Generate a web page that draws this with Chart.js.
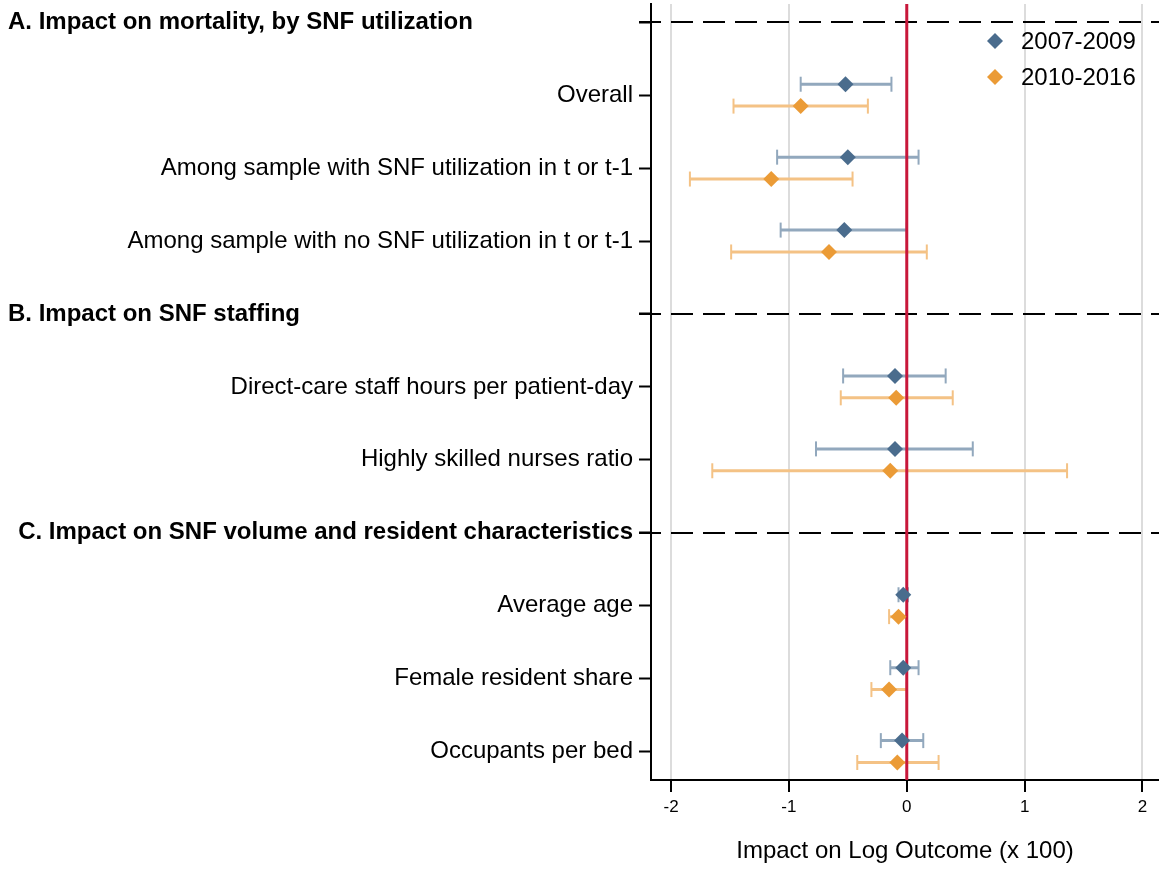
<!DOCTYPE html>
<html>
<head>
<meta charset="utf-8">
<title>Impact on Log Outcome</title>
<script src="https://cdn.jsdelivr.net/npm/chart.js@4"></script>
<style>
  html, body { margin: 0; padding: 0; background: #fff; }
  #wrap { width: 1159px; height: 869px; position: relative; }
</style>
</head>
<body>
<div id="wrap"><canvas id="coefChart"></canvas></div>
<script>
// rows from top to bottom, section headings included
const rowLabels = [
  'A. Impact on mortality, by SNF utilization',
  'Overall',
  'Among sample with SNF utilization in t or t-1',
  'Among sample with no SNF utilization in t or t-1',
  'B. Impact on SNF staffing',
  'Direct-care staff hours per patient-day',
  'Highly skilled nurses ratio',
  'C. Impact on SNF volume and resident characteristics',
  'Average age',
  'Female resident share',
  'Occupants per bed'
];
const headerRows = [0, 4, 7];
const outcomeRows = [1, 2, 3, 5, 6, 8, 9, 10];

const seriesNames = ['2007-2009', '2010-2016'];

// point estimates and 95% CI, one entry per outcome row
const est0709 = [-0.52, -0.50, -0.53, -0.10, -0.10, -0.03, -0.03, -0.04];
const lo0709  = [-0.90, -1.10, -1.07, -0.54, -0.77, -0.07, -0.14, -0.22];
const hi0709  = [-0.13,  0.10,  0.00,  0.33,  0.56,  0.01,  0.10,  0.14];

const est1016 = [-0.90, -1.15, -0.66, -0.09, -0.14, -0.07, -0.15, -0.08];
const lo1016  = [-1.47, -1.84, -1.49, -0.56, -1.65, -0.15, -0.30, -0.42];
const hi1016  = [-0.33, -0.46,  0.17,  0.39,  1.36,  0.00,  0.00,  0.27];

const xTicks = [-2, -1, 0, 1, 2];
const refLine = 0;

const blue = '#4a6c8d', blueCI = '#92a8bd';
const orange = '#eb9b36', orangeCI = '#f4c285';
const FONT = 'Liberation Sans, Arial, Helvetica, sans-serif';

const yMin = -0.25, yMax = 10.39;
const shift = 0.15;

function pointData(est, dy) {
  return outcomeRows.map((r, i) => ({ x: est[i], y: r + dy }));
}

function ciData(lo, hi, dy) {
  const out = [];
  outcomeRows.forEach((r, i) => {
    out.push({ x: lo[i], y: r + dy });
    out.push({ x: hi[i], y: r + dy });
    out.push({ x: null, y: null });
  });
  return out;
}

// section headings, dashed separators and the legend
const headingsPlugin = {
  id: 'headings',
  beforeDatasetsDraw(chart) {
    const ctx = chart.ctx;
    const area = chart.chartArea;
    const yScale = chart.scales.y;
    ctx.save();
    ctx.strokeStyle = '#000';
    ctx.lineWidth = 2;
    ctx.setLineDash([22, 10]);
    headerRows.forEach(r => {
      const y = Math.round(yScale.getPixelForValue(r));
      ctx.beginPath();
      ctx.moveTo(area.left - 12, y);
      ctx.lineTo(area.right, y);
      ctx.stroke();
    });
    ctx.restore();
  },
  afterDraw(chart) {
    const ctx = chart.ctx;
    const area = chart.chartArea;
    const yScale = chart.scales.y;
    const rightEdge = area.left - 18;
    ctx.save();
    ctx.font = 'bold 24px ' + FONT;
    ctx.fillStyle = '#000';
    ctx.textBaseline = 'middle';
    headerRows.forEach(r => {
      const w = ctx.measureText(rowLabels[r]).width;
      const x = (8 + w > rightEdge - 20) ? rightEdge - w : 8;
      ctx.fillText(rowLabels[r], x, yScale.getPixelForValue(r));
    });

    // legend, top right inside plot
    const lx = area.right - 164;
    const ly = area.top + 37;
    ctx.font = '24px ' + FONT;
    [blue, orange].forEach((c, i) => {
      const y = ly + i * 36;
      ctx.fillStyle = c;
      ctx.beginPath();
      ctx.moveTo(lx, y - 8);
      ctx.lineTo(lx + 8, y);
      ctx.lineTo(lx, y + 8);
      ctx.lineTo(lx - 8, y);
      ctx.closePath();
      ctx.fill();
      ctx.fillStyle = '#000';
      ctx.fillText(seriesNames[i], lx + 26, y + 1);
    });
    ctx.restore();
  }
};

const ctx = document.getElementById('coefChart').getContext('2d');
new Chart(ctx, {
  type: 'scatter',
  data: {
    datasets: [
      {
        label: seriesNames[0],
        data: pointData(est0709, -shift),
        pointStyle: 'rectRot',
        pointRadius: 8,
        backgroundColor: blue,
        borderColor: blue,
        borderWidth: 0,
        order: 0
      },
      {
        label: seriesNames[1],
        data: pointData(est1016, shift),
        pointStyle: 'rectRot',
        pointRadius: 8,
        backgroundColor: orange,
        borderColor: orange,
        borderWidth: 0,
        order: 0
      },
      {
        label: 'zero',
        data: [{ x: refLine, y: yMin }, { x: refLine, y: yMax }],
        showLine: true,
        pointRadius: 0,
        borderColor: '#c8173a',
        borderWidth: 3,
        order: 1
      },
      {
        label: seriesNames[0] + ' CI',
        data: ciData(lo0709, hi0709, -shift),
        showLine: true,
        spanGaps: false,
        borderColor: blueCI,
        borderWidth: 3,
        pointStyle: 'line',
        rotation: 90,
        pointRadius: 7.5,
        pointBorderWidth: 2,
        pointBorderColor: blueCI,
        order: 2
      },
      {
        label: seriesNames[1] + ' CI',
        data: ciData(lo1016, hi1016, shift),
        showLine: true,
        spanGaps: false,
        borderColor: orangeCI,
        borderWidth: 3,
        pointStyle: 'line',
        rotation: 90,
        pointRadius: 7.5,
        pointBorderWidth: 2,
        pointBorderColor: orangeCI,
        order: 2
      }
    ]
  },
  options: {
    responsive: true,
    maintainAspectRatio: false,
    animation: false,
    events: [],
    layout: { autoPadding: false, padding: { top: 4, right: 0, left: 0, bottom: 0 } },
    plugins: {
      legend: { display: false },
      tooltip: { enabled: false }
    },
    scales: {
      x: {
        type: 'linear',
        min: -2.17,
        max: 2.14,
        afterBuildTicks: scale => { scale.ticks = xTicks.map(v => ({ value: v })); },
        afterFit: scale => { scale.height = 89; scale.paddingLeft = 0; scale.paddingRight = 0; },
        ticks: {
          color: '#000',
          font: { family: FONT, size: 17 },
          padding: 5,
          maxRotation: 0,
          callback: v => String(v)
        },
        grid: {
          color: c => (c.tick && c.tick.value === refLine) ? 'rgba(0,0,0,0)' : '#dcdcdc',
          lineWidth: 2,
          drawTicks: true,
          tickLength: 12,
          tickColor: '#000',
          tickWidth: 2
        },
        border: { color: '#000', width: 2 },
        title: {
          display: true,
          text: 'Impact on Log Outcome (x 100)',
          color: '#000',
          font: { family: FONT, size: 24 },
          padding: { top: 0, bottom: 3 }
        }
      },
      y: {
        type: 'linear',
        reverse: true,
        min: yMin,
        max: yMax,
        afterBuildTicks: scale => { scale.ticks = rowLabels.map((l, i) => ({ value: i })); },
        afterFit: scale => { scale.width = 651; scale.paddingTop = 0; scale.paddingBottom = 0; },
        ticks: {
          color: '#000',
          font: { family: FONT, size: 24 },
          padding: 6,
          autoSkip: false,
          callback: (v, i) => headerRows.includes(i) ? '' : rowLabels[i]
        },
        grid: {
          drawOnChartArea: false,
          drawTicks: true,
          tickLength: 12,
          tickColor: '#000',
          tickWidth: 2
        },
        border: { color: '#000', width: 2 }
      }
    }
  },
  plugins: [headingsPlugin]
});
</script>
</body>
</html>
